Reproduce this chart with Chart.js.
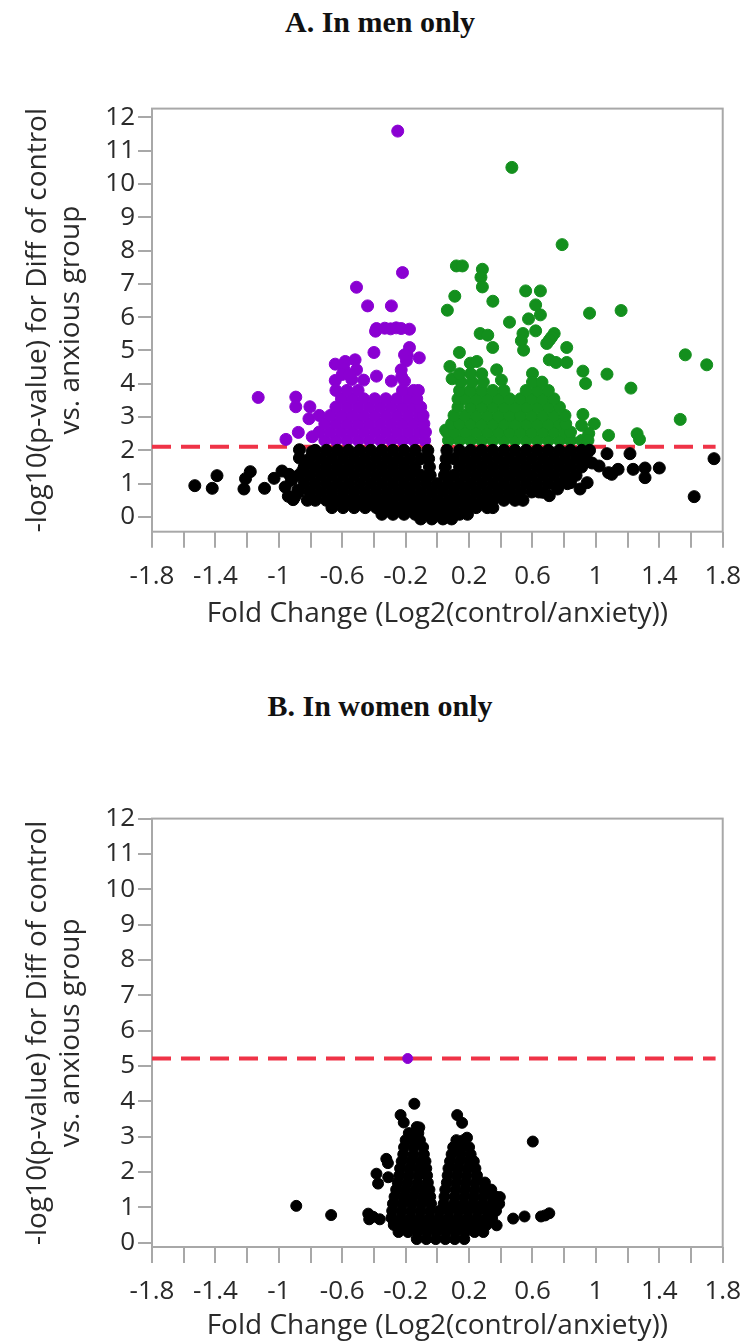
<!DOCTYPE html>
<html>
<head>
<meta charset="utf-8">
<script src="https://cdn.jsdelivr.net/npm/chart.js@4.4.1/dist/chart.umd.min.js"></script>
<style>
  html, body { margin: 0; padding: 0; background: #fff; }
  body { width: 754px; height: 1342px; position: relative; overflow: hidden; }
  .panel-title { position: absolute; left: 0; width: 760px; text-align: center;
    font: bold 30px "Liberation Serif", serif; line-height: 30px; color: #111; }
  canvas { position: absolute; left: 0; }
</style>
</head>
<body>
<div class="panel-title" style="top:7px">A. In men only</div>
<div class="panel-title" style="top:691px">B. In women only</div>
<canvas id="men-canvas" width="754" height="550" style="top:90px"></canvas>
<canvas id="women-canvas" width="754" height="550" style="top:800px"></canvas>
<script>
// axis ticks and titles
var xTickValues = [-1.8, -1.6, -1.4, -1.2, -1, -0.8, -0.6, -0.4, -0.2, 0, 0.2, 0.4, 0.6, 0.8, 1, 1.2, 1.4, 1.6, 1.8];
var xTickLabels = ['-1.8', '-1.4', '-1', '-0.6', '-0.2', '0.2', '0.6', '1', '1.4', '1.8'];
var yTickValues = [0, 1, 2, 3, 4, 5, 6, 7, 8, 9, 10, 11, 12];
var yTickLabels = ['0', '1', '2', '3', '4', '5', '6', '7', '8', '9', '10', '11', '12'];
var xTitle = 'Fold Change (Log2(control/anxiety))';
var yTitle = ['-log10(p-value) for Diff of control', 'vs. anxious group'];

var menThreshold = 2.11;
var womenThreshold = 5.21;

// [fold change, -log10 p]  -- men, down-regulated significant
var menPurple = [
  [-0.25, 11.59], [-0.22, 7.34], [-0.51, 6.9], [-0.44, 6.34], [-0.29, 6.34],
  [-0.39, 5.58], [-0.384, 5.66], [-0.332, 5.67], [-0.295, 5.65], [-0.26, 5.68], [-0.228, 5.66], [-0.176, 5.64],
  [-0.4, 4.94], [-0.176, 5.09], [-0.19, 4.85], [-0.207, 4.87], [-0.114, 4.78], [-0.195, 4.69],
  [-0.644, 4.59], [-0.581, 4.67], [-0.519, 4.72], [-0.51, 4.42], [-0.59, 4.45],
  [-0.644, 4.1], [-0.6, 4.28], [-0.54, 4.13], [-0.555, 4.27], [-0.465, 4.11], [-0.384, 4.23],
  [-0.29, 4.08], [-0.228, 4.42], [-0.207, 4.08], [-0.225, 4.21],
  [-1.13, 3.59], [-0.893, 3.6], [-0.893, 3.31], [-0.804, 3.31], [-0.81, 2.95],
  [-0.955, 2.33], [-0.877, 2.54], [-0.789, 2.41],
  [-0.71, 2.3], [-0.64, 2.3], [-0.57, 2.3], [-0.5, 2.3], [-0.43, 2.3], [-0.36, 2.3], [-0.29, 2.3], [-0.22, 2.3], [-0.15, 2.3], [-0.08, 2.3],
  [-0.745, 2.55], [-0.675, 2.55], [-0.605, 2.55], [-0.535, 2.55], [-0.465, 2.55], [-0.395, 2.55], [-0.325, 2.55], [-0.255, 2.55], [-0.185, 2.55], [-0.115, 2.55], [-0.075, 2.55],
  [-0.71, 2.8], [-0.64, 2.8], [-0.57, 2.8], [-0.5, 2.8], [-0.43, 2.8], [-0.36, 2.8], [-0.29, 2.8], [-0.22, 2.8], [-0.15, 2.8], [-0.085, 2.8],
  [-0.745, 3.05], [-0.675, 3.05], [-0.605, 3.05], [-0.535, 3.05], [-0.465, 3.05], [-0.395, 3.05], [-0.325, 3.05], [-0.255, 3.05], [-0.185, 3.05], [-0.115, 3.05], [-0.09, 3.05],
  [-0.64, 3.3], [-0.57, 3.3], [-0.5, 3.3], [-0.43, 3.3], [-0.36, 3.3], [-0.29, 3.3], [-0.22, 3.3], [-0.15, 3.3], [-0.105, 3.3],
  [-0.605, 3.55], [-0.535, 3.55], [-0.465, 3.55], [-0.395, 3.55], [-0.325, 3.55], [-0.255, 3.55], [-0.185, 3.55], [-0.13, 3.55],
  [-0.64, 3.8], [-0.57, 3.8], [-0.5, 3.8], [-0.22, 3.8], [-0.15, 3.8], [-0.12, 3.8]
];

// men, up-regulated significant
var menGreen = [
  [0.47, 10.5], [0.787, 8.18], [0.12, 7.54], [0.158, 7.54], [0.284, 7.44], [0.275, 7.2], [0.284, 6.91],
  [0.11, 6.63], [0.063, 6.21], [0.35, 6.48], [0.557, 6.79], [0.65, 6.79], [0.62, 6.37], [0.65, 6.07],
  [0.575, 5.95], [0.455, 5.85], [0.96, 6.12], [1.159, 6.2],
  [0.27, 5.51], [0.318, 5.46], [0.349, 5.09], [0.54, 5.51], [0.53, 5.29], [0.544, 5.01], [0.62, 5.59],
  [0.737, 5.51], [0.72, 5.4], [0.706, 5.31], [0.69, 5.21], [0.816, 5.09], [0.706, 4.72], [0.748, 4.64],
  [0.816, 4.64], [0.139, 4.94], [0.079, 4.52], [0.093, 4.15], [0.208, 4.62], [0.249, 4.67], [0.6, 4.31],
  [0.374, 4.42], [0.404, 4.11], [0.918, 4.38], [0.935, 4.01], [1.07, 4.29], [1.221, 3.87],
  [1.564, 4.87], [1.699, 4.57], [1.532, 2.93], [1.08, 2.45], [1.26, 2.5], [1.275, 2.33],
  [0.99, 2.8], [0.918, 3.08], [0.955, 2.51], [0.91, 2.75], [0.052, 2.61],
  [0.07, 2.3], [0.14, 2.3], [0.21, 2.3], [0.28, 2.3], [0.35, 2.3], [0.42, 2.3], [0.49, 2.3], [0.56, 2.3], [0.63, 2.3], [0.7, 2.3], [0.77, 2.3], [0.84, 2.3], [0.91, 2.3], [0.95, 2.3],
  [0.06, 2.55], [0.105, 2.55], [0.175, 2.55], [0.245, 2.55], [0.315, 2.55], [0.385, 2.55], [0.455, 2.55], [0.525, 2.55], [0.595, 2.55], [0.665, 2.55], [0.735, 2.55], [0.805, 2.55], [0.84, 2.55],
  [0.09, 2.8], [0.14, 2.8], [0.21, 2.8], [0.28, 2.8], [0.35, 2.8], [0.42, 2.8], [0.49, 2.8], [0.56, 2.8], [0.63, 2.8], [0.7, 2.8], [0.77, 2.8], [0.81, 2.8],
  [0.105, 3.05], [0.175, 3.05], [0.245, 3.05], [0.315, 3.05], [0.385, 3.05], [0.455, 3.05], [0.525, 3.05], [0.595, 3.05], [0.665, 3.05], [0.735, 3.05], [0.805, 3.05],
  [0.13, 3.3], [0.21, 3.3], [0.28, 3.3], [0.35, 3.3], [0.42, 3.3], [0.49, 3.3], [0.56, 3.3], [0.63, 3.3], [0.7, 3.3], [0.77, 3.3],
  [0.13, 3.55], [0.175, 3.55], [0.245, 3.55], [0.315, 3.55], [0.385, 3.55], [0.455, 3.55], [0.525, 3.55], [0.595, 3.55], [0.665, 3.55], [0.735, 3.55],
  [0.14, 3.8], [0.21, 3.8], [0.28, 3.8], [0.35, 3.8], [0.42, 3.8], [0.56, 3.8], [0.63, 3.8], [0.7, 3.8],
  [0.15, 4.05], [0.22, 4.05], [0.29, 4.05], [0.6, 4.05], [0.66, 4.05],
  [0.14, 4.3], [0.21, 4.3], [0.28, 4.3]
];

// men, not significant
var menBlack = [
  [-1.53, 0.94], [-1.42, 0.86], [-1.39, 1.24], [-1.22, 0.84], [-1.21, 1.15], [-1.18, 1.36],
  [-1.09, 0.86], [-1.03, 1.16], [-0.98, 1.38], [-0.96, 0.9], [-0.94, 0.62], [-0.935, 1.28],
  [-0.92, 1.1], [-0.91, 0.52], [-0.9, 0.6], [-0.88, 0.8], [-0.87, 2.02], [-0.87, 1.77],
  [-0.85, 1.38], [-0.83, 1.62], [-0.79, 1.96],
  [0.665, 0.74], [0.706, 0.64], [0.758, 0.84], [0.84, 1.03], [0.9, 0.84], [0.945, 1.03],
  [0.976, 1.62], [1.02, 1.53], [1.07, 1.9], [1.08, 1.33], [1.1, 1.28], [1.14, 1.43],
  [1.215, 1.9], [1.235, 1.43], [1.31, 1.47], [1.31, 1.18], [1.4, 1.47], [1.62, 0.61], [1.745, 1.75],
  [-0.77, 2], [-0.7, 2], [-0.63, 2], [-0.56, 2], [-0.49, 2], [-0.42, 2], [-0.35, 2], [-0.28, 2], [-0.21, 2], [-0.14, 2], [-0.06, 2],
  [0.06, 2], [0.14, 2], [0.21, 2], [0.28, 2], [0.35, 2], [0.42, 2], [0.49, 2], [0.56, 2], [0.63, 2], [0.7, 2], [0.77, 2], [0.84, 2], [0.91, 2], [0.96, 2],
  [-0.805, 1.75], [-0.735, 1.75], [-0.665, 1.75], [-0.595, 1.75], [-0.525, 1.75], [-0.455, 1.75], [-0.385, 1.75], [-0.315, 1.75], [-0.245, 1.75], [-0.175, 1.75], [-0.105, 1.75], [-0.055, 1.75],
  [0.055, 1.75], [0.105, 1.75], [0.175, 1.75], [0.245, 1.75], [0.315, 1.75], [0.385, 1.75], [0.455, 1.75], [0.525, 1.75], [0.595, 1.75], [0.665, 1.75], [0.735, 1.75], [0.805, 1.75], [0.875, 1.75], [0.94, 1.75],
  [-0.84, 1.5], [-0.77, 1.5], [-0.7, 1.5], [-0.63, 1.5], [-0.56, 1.5], [-0.49, 1.5], [-0.42, 1.5], [-0.35, 1.5], [-0.28, 1.5], [-0.21, 1.5], [-0.14, 1.5], [-0.05, 1.5],
  [0.05, 1.5], [0.14, 1.5], [0.21, 1.5], [0.28, 1.5], [0.35, 1.5], [0.42, 1.5], [0.49, 1.5], [0.56, 1.5], [0.63, 1.5], [0.7, 1.5], [0.77, 1.5], [0.84, 1.5], [0.91, 1.5],
  [-0.875, 1.25], [-0.805, 1.25], [-0.735, 1.25], [-0.665, 1.25], [-0.595, 1.25], [-0.525, 1.25], [-0.455, 1.25], [-0.385, 1.25], [-0.315, 1.25], [-0.245, 1.25], [-0.175, 1.25], [-0.105, 1.25], [-0.045, 1.25],
  [0.045, 1.25], [0.105, 1.25], [0.175, 1.25], [0.245, 1.25], [0.315, 1.25], [0.385, 1.25], [0.455, 1.25], [0.525, 1.25], [0.595, 1.25], [0.665, 1.25], [0.735, 1.25], [0.805, 1.25], [0.875, 1.25],
  [-0.84, 1], [-0.77, 1], [-0.7, 1], [-0.63, 1], [-0.56, 1], [-0.49, 1], [-0.42, 1], [-0.35, 1], [-0.28, 1], [-0.21, 1], [-0.14, 1], [-0.07, 1], [0, 1],
  [0.07, 1], [0.14, 1], [0.21, 1], [0.28, 1], [0.35, 1], [0.42, 1], [0.49, 1], [0.56, 1], [0.63, 1], [0.7, 1], [0.77, 1], [0.82, 1],
  [-0.875, 0.75], [-0.805, 0.75], [-0.735, 0.75], [-0.665, 0.75], [-0.595, 0.75], [-0.525, 0.75], [-0.455, 0.75], [-0.385, 0.75], [-0.315, 0.75], [-0.245, 0.75], [-0.175, 0.75], [-0.105, 0.75],
  [-0.035, 0.75], [0.035, 0.75], [0.105, 0.75], [0.175, 0.75], [0.245, 0.75], [0.315, 0.75], [0.385, 0.75], [0.455, 0.75], [0.525, 0.75], [0.595, 0.75], [0.64, 0.75],
  [-0.82, 0.5], [-0.77, 0.5], [-0.7, 0.5], [-0.63, 0.5], [-0.56, 0.5], [-0.49, 0.5], [-0.42, 0.5], [-0.35, 0.5], [-0.28, 0.5], [-0.21, 0.5], [-0.14, 0.5], [-0.07, 0.5],
  [0, 0.5], [0.07, 0.5], [0.14, 0.5], [0.21, 0.5], [0.28, 0.5], [0.35, 0.5], [0.42, 0.5], [0.49, 0.5], [0.54, 0.5],
  [-0.665, 0.28], [-0.595, 0.28], [-0.525, 0.28], [-0.455, 0.28], [-0.385, 0.28], [-0.315, 0.28], [-0.245, 0.28], [-0.175, 0.28], [-0.105, 0.28],
  [-0.035, 0.28], [0.035, 0.28], [0.105, 0.28], [0.175, 0.28], [0.245, 0.28], [0.315, 0.28], [0.35, 0.28],
  [-0.35, 0.08], [-0.28, 0.08], [-0.21, 0.08], [-0.14, 0.08], [-0.07, 0.08], [0, 0.08], [0.07, 0.08], [0.14, 0.08], [0.19, 0.08],
  [-0.105, -0.06], [-0.035, -0.06], [0.035, -0.06], [0.09, -0.06]
];

// women
var womenPurple = [[-0.187, 5.21]];

var womenBlack = [
  [-0.89, 1.04], [-0.67, 0.78], [-0.436, 0.82], [-0.43, 0.66], [-0.405, 0.73], [-0.363, 0.66],
  [-0.384, 1.95], [-0.374, 1.67], [-0.322, 2.37], [-0.312, 2.25], [-0.31, 1.85],
  [-0.232, 3.61], [-0.212, 3.4], [-0.145, 3.93], [-0.13, 3.27], [-0.114, 3.26],
  [0.125, 3.61], [0.156, 3.39], [0.187, 2.97],
  [0.394, 1.29], [0.374, 0.49], [0.478, 0.68], [0.55, 0.74], [0.602, 2.86], [0.654, 0.74], [0.68, 0.77], [0.706, 0.83],
  [-0.18, 3.1], [-0.12, 3.1],
  [-0.2, 2.9], [-0.15, 2.9], [-0.11, 2.9], [0.12, 2.9], [0.165, 2.9],
  [-0.21, 2.7], [-0.15, 2.7], [-0.09, 2.7], [0.1, 2.7], [0.15, 2.7], [0.2, 2.7],
  [-0.215, 2.5], [-0.15, 2.5], [-0.085, 2.5], [0.09, 2.5], [0.15, 2.5], [0.21, 2.5],
  [-0.225, 2.3], [-0.165, 2.3], [-0.105, 2.3], [-0.075, 2.3], [0.08, 2.3], [0.14, 2.3], [0.2, 2.3], [0.23, 2.3],
  [-0.235, 2.1], [-0.175, 2.1], [-0.115, 2.1], [-0.07, 2.1], [0.07, 2.1], [0.13, 2.1], [0.19, 2.1], [0.24, 2.1],
  [-0.24, 1.9], [-0.18, 1.9], [-0.12, 1.9], [-0.065, 1.9], [0.065, 1.9], [0.125, 1.9], [0.185, 1.9], [0.25, 1.9],
  [-0.25, 1.7], [-0.19, 1.7], [-0.125, 1.7], [-0.06, 1.7], [0.06, 1.7], [0.12, 1.7], [0.18, 1.7], [0.24, 1.7], [0.3, 1.7],
  [-0.26, 1.5], [-0.2, 1.5], [-0.14, 1.5], [-0.08, 1.5], [-0.05, 1.5], [0.05, 1.5], [0.115, 1.5], [0.175, 1.5], [0.235, 1.5], [0.295, 1.5], [0.34, 1.5],
  [-0.27, 1.3], [-0.21, 1.3], [-0.15, 1.3], [-0.09, 1.3], [-0.045, 1.3], [0.045, 1.3], [0.11, 1.3], [0.17, 1.3], [0.23, 1.3], [0.29, 1.3], [0.35, 1.3], [0.37, 1.3],
  [-0.28, 1.1], [-0.22, 1.1], [-0.16, 1.1], [-0.1, 1.1], [-0.04, 1.1], [0.04, 1.1], [0.105, 1.1], [0.165, 1.1], [0.225, 1.1], [0.285, 1.1], [0.345, 1.1], [0.39, 1.1],
  [-0.285, 0.9], [-0.225, 0.9], [-0.165, 0.9], [-0.105, 0.9], [-0.045, 0.9], [0.015, 0.9], [0.075, 0.9], [0.135, 0.9], [0.195, 0.9], [0.255, 0.9], [0.315, 0.9], [0.37, 0.9],
  [-0.29, 0.7], [-0.23, 0.7], [-0.17, 0.7], [-0.11, 0.7], [-0.05, 0.7], [0.01, 0.7], [0.07, 0.7], [0.13, 0.7], [0.19, 0.7], [0.25, 0.7], [0.31, 0.7], [0.345, 0.7],
  [-0.275, 0.5], [-0.215, 0.5], [-0.155, 0.5], [-0.095, 0.5], [-0.035, 0.5], [0.025, 0.5], [0.085, 0.5], [0.145, 0.5], [0.205, 0.5], [0.265, 0.5], [0.31, 0.5],
  [-0.245, 0.3], [-0.185, 0.3], [-0.125, 0.3], [-0.065, 0.3], [-0.005, 0.3], [0.055, 0.3], [0.115, 0.3], [0.175, 0.3], [0.235, 0.3], [0.29, 0.3],
  [-0.13, 0.1], [-0.07, 0.1], [-0.01, 0.1], [0.05, 0.1], [0.11, 0.1], [0.17, 0.1]
];

var textColor = '#2a2a2a';
var frameGray = '#a8a8a8';
var purple = '#8a00d2';
var green = '#138f1d';
var dashRed = '#ef3347';
var fontFamily = "'Open Sans', 'Noto Sans', sans-serif";

function toPoints(pairs) {
  return pairs.map(function (p) { return { x: p[0], y: p[1] }; });
}

// box around the plot area, drawn under the points
var framePlugin = {
  id: 'frame',
  beforeDatasetsDraw: function (chart) {
    var a = chart.chartArea;
    var ctx = chart.ctx;
    ctx.save();
    ctx.strokeStyle = frameGray;
    ctx.lineWidth = 2;
    ctx.strokeRect(a.left, a.top, a.right - a.left, a.bottom - a.top);
    ctx.restore();
  }
};

function dotSet(pairs, color, r, order) {
  return {
    data: toPoints(pairs),
    backgroundColor: color,
    borderColor: color,
    borderWidth: 1,
    pointRadius: r,
    order: order
  };
}

function volcano(canvasId, o) {
  var ctx = document.getElementById(canvasId).getContext('2d');
  var datasets = [
    dotSet(o.black, '#000', o.r, 1),
    dotSet(o.purple, purple, o.rSig, 2),
    dotSet(o.green, green, o.rSig, 2),
    {
      data: [{ x: -1.8, y: o.threshold }, { x: 1.755, y: o.threshold }],
      showLine: true,
      borderColor: dashRed,
      borderWidth: 4,
      borderDash: [19, 10],
      pointRadius: 0,
      order: 3
    }
  ];
  return new Chart(ctx, {
    type: 'scatter',
    data: { datasets: datasets },
    plugins: [framePlugin],
    options: {
      responsive: false,
      animation: false,
      events: [],
      layout: { padding: { top: o.padTop, right: 26, bottom: 0, left: 0 } },
      plugins: { legend: { display: false }, tooltip: { enabled: false } },
      scales: {
        x: {
          type: 'linear',
          min: -1.8,
          max: 1.8,
          afterBuildTicks: function (s) { s.ticks = xTickValues.map(function (v) { return { value: v }; }); },
          afterFit: function (s) { s.height = o.xAxisHeight; },
          border: { display: false },
          grid: { drawOnChartArea: false, drawTicks: true, tickLength: 16, color: frameGray, lineWidth: 2 },
          ticks: {
            autoSkip: false,
            maxRotation: 0,
            padding: 13,
            color: textColor,
            font: { family: fontFamily, size: 26 },
            callback: function (v, i) { return i % 2 === 0 ? xTickLabels[i / 2] : ''; }
          },
          title: {
            display: true,
            text: xTitle,
            color: textColor,
            font: { family: fontFamily, size: 28 },
            padding: { top: 0, bottom: o.xTitlePad }
          }
        },
        y: {
          type: 'linear',
          min: o.yMin,
          max: o.yMax,
          afterBuildTicks: function (s) { s.ticks = yTickValues.map(function (v) { return { value: v }; }); },
          afterFit: function (s) { s.width = 152; },
          border: { display: false },
          grid: { drawOnChartArea: false, drawTicks: true, tickLength: 14, color: frameGray, lineWidth: 2 },
          ticks: {
            padding: 3,
            color: textColor,
            font: { family: fontFamily, size: 26 },
            callback: function (v, i) { return yTickLabels[i]; }
          },
          title: {
            display: true,
            text: yTitle,
            color: textColor,
            font: { family: fontFamily, size: 28, lineHeight: 1.2 },
            padding: { top: 21, bottom: 0 }
          }
        }
      }
    }
  });
}

volcano('men-canvas', {
  black: menBlack, purple: menPurple, green: menGreen, threshold: menThreshold,
  r: 6, rSig: 6, yMin: -0.443, yMax: 12.266,
  padTop: 11, xAxisHeight: 108.3, xTitlePad: 9
});

volcano('women-canvas', {
  black: womenBlack, purple: womenPurple, green: [], threshold: womenThreshold,
  r: 5.5, rSig: 5, yMin: -0.124, yMax: 12,
  padTop: 15.7, xAxisHeight: 103, xTitlePad: 7
});
</script>
</body>
</html>
